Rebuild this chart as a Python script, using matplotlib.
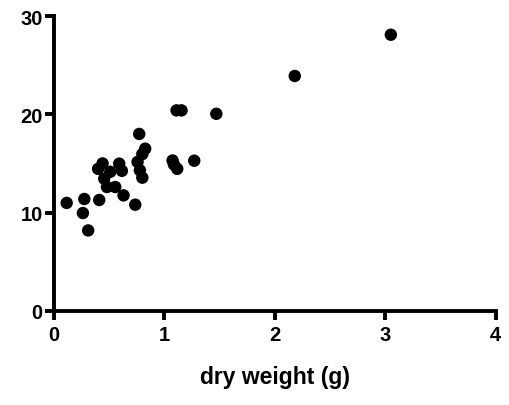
import matplotlib
matplotlib.use('Agg')
import matplotlib.pyplot as plt

# === 数据 ===
dry_weight = [3.05, 2.18, 1.47, 1.11, 1.155, 1.27, 1.074, 1.086, 1.116,
              0.772, 0.826, 0.80, 0.757, 0.778, 0.80, 0.736, 0.63, 0.555,
              0.48, 0.591, 0.615, 0.44, 0.40, 0.455, 0.51, 0.41, 0.275,
              0.262, 0.31, 0.115]
y_values = [28.1, 23.9, 20.05, 20.4, 20.4, 15.28, 15.3, 14.9, 14.45,
            18.0, 16.5, 15.95, 15.15, 14.3, 13.55, 10.8, 11.75, 12.6,
            12.6, 14.98, 14.25, 15.0, 14.45, 13.45, 14.15, 11.28, 11.38,
            9.95, 8.18, 10.98]

x_ticks = [0, 1, 2, 3, 4]
y_ticks = [0, 10, 20, 30]

plt.rcParams['font.family'] = ['Liberation Sans', 'DejaVu Sans']

fig = plt.figure(figsize=(5.09, 4.06), dpi=100)
ax = fig.add_axes([0.106, 0.232, 0.868, 0.726])

ax.scatter(dry_weight, y_values, s=80, color='black', edgecolors='none', zorder=3, clip_on=False)

ax.set_xlim(0, 4)
ax.set_ylim(0, 30)
ax.set_xticks(x_ticks)
ax.set_yticks(y_ticks)

for side in ['top', 'right']:
    ax.spines[side].set_visible(False)
for side in ['left', 'bottom']:
    ax.spines[side].set_linewidth(2.8)
    ax.spines[side].set_capstyle('projecting')

ax.tick_params(width=2.8, length=6.5, direction='out', labelsize=14.5, pad=1.5)
ax.tick_params(axis='x', pad=4)
for lbl in ax.get_xticklabels() + ax.get_yticklabels():
    lbl.set_fontweight('bold')

ax.set_xlabel('dry weight (g)', fontsize=16.5, fontweight='bold', labelpad=15)

fig.savefig('out.png', dpi=100, facecolor='white')
